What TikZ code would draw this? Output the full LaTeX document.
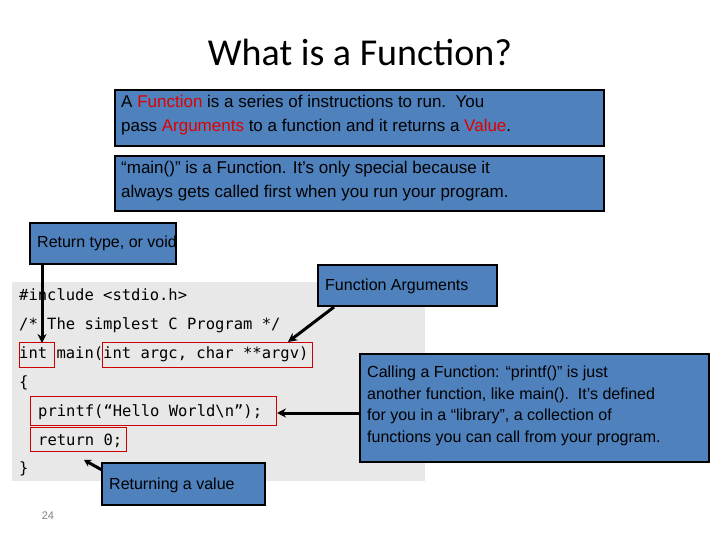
\documentclass[tikz,border=0pt]{standalone}
\usepackage{fontspec}
\setmainfont{Liberation Sans}
\newfontfamily\codefont{DejaVu Sans Mono}
\newfontfamily\titlefont{Carlito}
\definecolor{boxblue}{HTML}{4F81BD}
\definecolor{codegray}{HTML}{E8E8E8}
\definecolor{fred}{HTML}{E00000}
\begin{document}
\begin{tikzpicture}[x=1pt,y=-1pt,
  bbox/.style={draw=black,line width=2.5pt,fill=boxblue},
  rbox/.style={draw=red!80!black,line width=0.8pt},
  code/.style={anchor=base west,inner sep=0,font=\codefont\fontsize{15.5}{18}\selectfont},
  btxt/.style={anchor=north west,inner sep=0,align=left,font=\fontsize{17}{24}\selectfont},
  arr/.style={line width=3pt,-{Stealth[length=9pt,width=9pt]}}]
\usetikzlibrary{arrows.meta}
\useasboundingbox (0,0) rectangle (720,540);
\node (title) at (360,52) {\titlefont\fontsize{38}{40}\selectfont What is a Function?};
\draw[bbox] (115,90) rectangle (604,146);
\node[btxt] (t1) at (121,95) {A \textcolor{fred}{Function} is a series of instructions to run.\ \ You\\pass \textcolor{fred}{Arguments} to a function and it returns a \textcolor{fred}{Value}.};
\draw[bbox] (115,156) rectangle (604,211);
\node[btxt] (t2) at (121,161) {“main()” is a Function. It’s only special because it\\always gets called first when you run your program.};
\fill[codegray] (12,282) rectangle (425,481);
\node[code] (c1) at (19,300) {\#include <stdio.h>};
\node[code] (c2) at (19,329) {/* The simplest C Program */};
\node[code] (c3) at (19,358) {int main(int argc, char **argv)};
\node[code] (c4) at (19,387) {\{};
\node[code] (c5) at (38,416) {printf(“Hello World\textbackslash n”);};
\node[code] (c6) at (38,445) {return 0;};
\node[code] (c7) at (19,473) {\}};
\draw[rbox] (19,342) rectangle (54,367);
\draw[rbox] (102,342) rectangle (312,367);
\draw[rbox] (30,396) rectangle (276,425);
\draw[rbox] (30,427) rectangle (126,451);
\draw[bbox] (30,223) rectangle (176,264);
\node[anchor=west,inner sep=0,font=\fontsize{16}{18}\selectfont] (rt) at (37,243) {Return type, or void};
\draw[bbox] (318,265) rectangle (497,306);
\node[anchor=west,inner sep=0,font=\fontsize{16}{18}\selectfont] (fa) at (325,286) {Function Arguments};
\draw[bbox] (360,354) rectangle (709,462);
\node[anchor=north west,inner sep=0,align=left,font=\fontsize{16}{21.5}\selectfont] (cf) at (367,366) {Calling a Function: “printf()” is just\\another function, like main().\ \ It’s defined\\for you in a “library”, a collection of\\functions you can call from your program.};
\draw[bbox] (102,463) rectangle (265,505);
\node[anchor=west,inner sep=0,font=\fontsize{16}{18}\selectfont] (rv) at (109,485) {Returning a value};
\node[font=\fontsize{11}{12}\selectfont,text=gray] (pg) at (48,516) {24};
\coordinate (a1s) at (42,265); \coordinate (a1e) at (42,343);
\coordinate (a2s) at (334,307); \coordinate (a2e) at (288,342);
\coordinate (a3s) at (359,413); \coordinate (a3e) at (277,413);
\coordinate (a4s) at (102,470); \coordinate (a4e) at (84,460);
\draw[arr] (a1s) -- (a1e);
\draw[arr] (a2s) -- (a2e);
\draw[arr] (a3s) -- (a3e);
\draw[line width=3pt,-{Stealth[length=7pt,width=8pt]}] (a4s) -- (a4e);
\end{tikzpicture}
\end{document}
